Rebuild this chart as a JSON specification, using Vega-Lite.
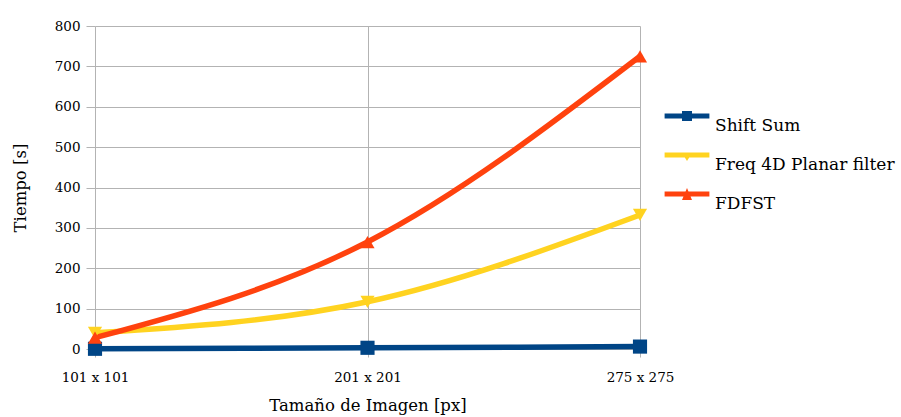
{
  "$schema": "https://vega.github.io/schema/vega-lite/v6.json",
  "width": 545,
  "height": 323,
  "autosize": "none",
  "padding": {"left": 95, "top": 26, "right": 261, "bottom": 68},
  "background": "white",
  "config": {
    "view": {"stroke": null},
    "font": "DejaVu Serif",
    "axis": {
      "labelFont": "DejaVu Serif",
      "titleFont": "DejaVu Serif",
      "labelColor": "#000000",
      "titleColor": "#000000",
      "labelFontSize": 13.5,
      "titleFontSize": 16.5,
      "titleFontWeight": "normal",
      "gridColor": "#b3b3b3",
      "tickColor": "#b3b3b3",
      "domain": false
    }
  },
  "data": {
    "values": [
      {"size": "101 x 101", "series": "Shift Sum", "t": 0.5},
      {"size": "201 x 201", "series": "Shift Sum", "t": 3},
      {"size": "275 x 275", "series": "Shift Sum", "t": 6},
      {"size": "101 x 101", "series": "Freq 4D Planar filter", "t": 40},
      {"size": "201 x 201", "series": "Freq 4D Planar filter", "t": 117},
      {"size": "275 x 275", "series": "Freq 4D Planar filter", "t": 332},
      {"size": "101 x 101", "series": "FDFST", "t": 28},
      {"size": "201 x 201", "series": "FDFST", "t": 265},
      {"size": "275 x 275", "series": "FDFST", "t": 725}
    ]
  },
  "encoding": {
    "x": {
      "field": "size",
      "type": "ordinal",
      "sort": ["101 x 101", "201 x 201", "275 x 275"],
      "scale": {"type": "point", "padding": 0},
      "axis": {
        "title": "Tamaño de Imagen [px]",
        "labelAngle": 0,
        "grid": true,
        "tickSize": 8,
        "labelPadding": 13,
        "titlePadding": 14
      }
    },
    "y": {
      "field": "t",
      "type": "quantitative",
      "scale": {"domain": [0, 800], "nice": false},
      "axis": {
        "title": "Tiempo [s]",
        "values": [0, 100, 200, 300, 400, 500, 600, 700, 800],
        "tickSize": 9,
        "labelPadding": 6,
        "titlePadding": 26
      }
    },
    "color": {
      "field": "series",
      "type": "nominal",
      "scale": {
        "domain": ["Shift Sum", "Freq 4D Planar filter", "FDFST"],
        "range": ["#004586", "#ffd320", "#ff420e"]
      },
      "legend": {
        "title": null,
        "orient": "none",
        "legendX": 572,
        "legendY": 70,
        "symbolSize": 1600,
        "symbolStrokeWidth": 0,
        "symbolOpacity": 1,
        "rowPadding": 1,
        "labelOffset": 8,
        "labelFont": "DejaVu Serif",
        "labelFontSize": 17,
        "labelColor": "#000000",
        "labelBaseline": "top",
        "labelLimit": 300,
        "encode": {
          "symbols": {
            "update": {
              "shape": {"signal": "datum.value === 'Shift Sum' ? 'M-1.12,-0.12H1.12V0.12H-1.12Z M-0.25,-0.25H0.25V0.25H-0.25Z' : datum.value === 'FDFST' ? 'M-1.12,-0.12H1.12V0.12H-1.12Z M0,-0.3L0.25,0.3L-0.25,0.3Z' : 'M-1.12,-0.12H1.12V0.12H-1.12Z M-0.25,-0.1L0.25,-0.1L0,0.3Z'"},
              "fill": {"signal": "scale('color', datum.value)"},
              "strokeWidth": {"value": 0}
            }
          },
          "labels": {
            "update": {
              "dy": {"value": 2}
            }
          }
        }
      }
    }
  },
  "layer": [
    {
      "mark": {"type": "line", "interpolate": "natural", "strokeWidth": 5.5},
      "encoding": {"order": {"field": "size"}}
    },
    {
      "transform": [{"filter": "datum.series === 'Shift Sum'"}],
      "mark": {"type": "point", "shape": "square", "filled": true, "opacity": 1, "size": 200}
    },
    {
      "transform": [{"filter": "datum.series === 'Freq 4D Planar filter'"}],
      "mark": {"type": "point", "shape": "triangle-down", "filled": true, "opacity": 1, "size": 200}
    },
    {
      "transform": [{"filter": "datum.series === 'FDFST'"}],
      "mark": {"type": "point", "shape": "triangle-up", "filled": true, "opacity": 1, "size": 200}
    }
  ]
}
